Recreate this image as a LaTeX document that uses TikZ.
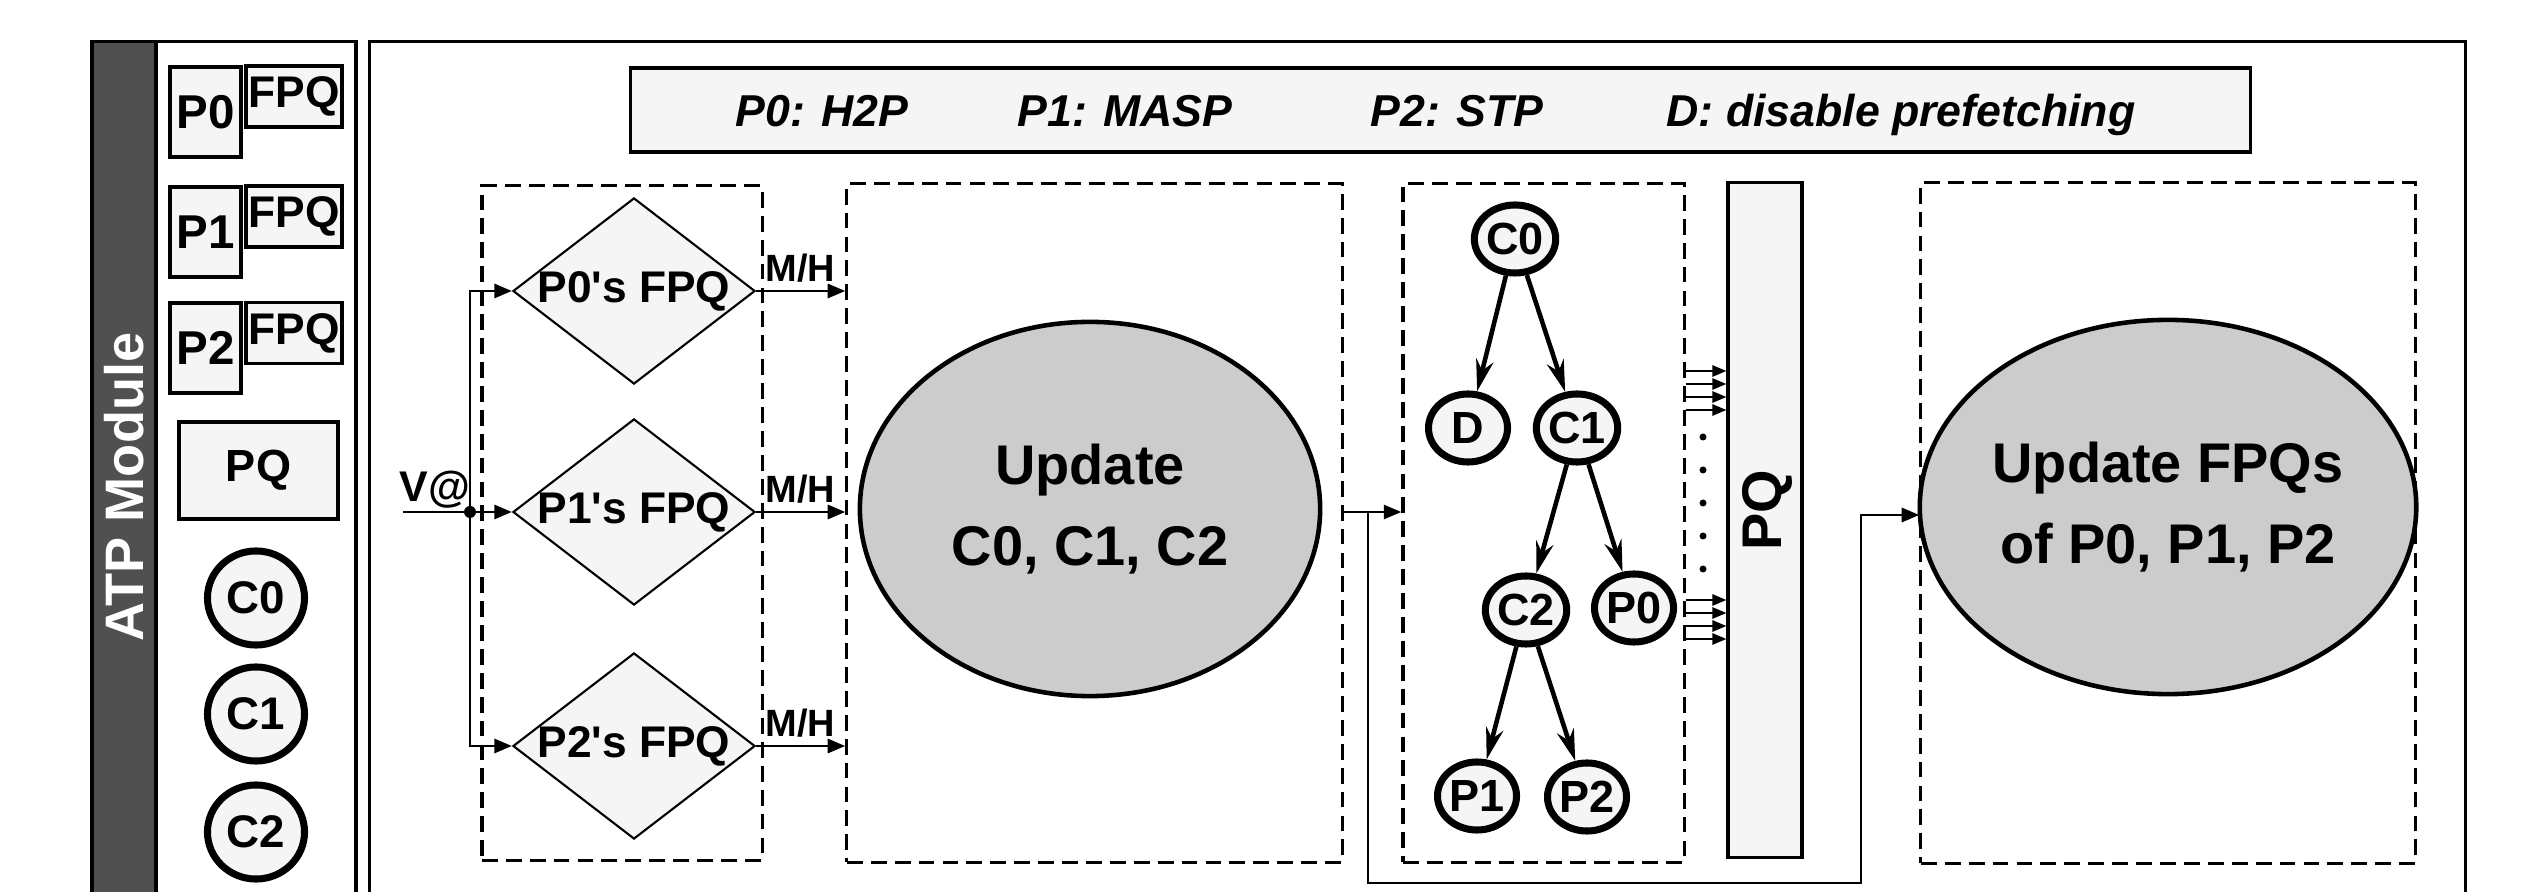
\documentclass[tikz,border=0pt]{standalone}
\usepackage{fontspec}
\setmainfont{Liberation Sans}
\usetikzlibrary{shapes.geometric,arrows.meta,calc}
\definecolor{boxfill}{HTML}{F5F5F5}
\definecolor{ellfill}{HTML}{CCCCCC}
\definecolor{barfill}{HTML}{505050}
\newcommand{\myfs}[1]{\fontsize{#1}{#1}\selectfont\bfseries}
\begin{document}
\begin{tikzpicture}[x=0.01cm,y=-0.01cm,
  frame/.style={draw, line width=0.9pt, inner sep=0},
  dbox/.style={draw, dash pattern=on 4.5pt off 2.3pt, line width=0.9pt, inner sep=0},
  gbox/.style={draw, fill=boxfill, line width=0.9pt, inner sep=0},
  lcirc/.style={ellipse, draw, line width=2pt, fill=boxfill, minimum width=0.97cm, minimum height=0.94cm, inner sep=0, font=\myfs{13}},
  tcirc/.style={ellipse, draw, line width=2pt, fill=boxfill, minimum width=0.79cm, minimum height=0.68cm, inner sep=0, font=\myfs{12.8}},
  dmd/.style={diamond, draw, fill=boxfill, line width=0.6pt, minimum width=2.42cm, minimum height=1.86cm, inner sep=0},
  dmdtxt/.style={inner sep=0, font=\myfs{12.6}},
  bigell/.style={ellipse, draw, fill=ellfill, line width=1.3pt, align=center, inner sep=0, font=\fontsize{15.9}{22.8}\selectfont\bfseries},
  arr/.style={-{Triangle[length=5pt,width=4pt]}, line width=0.8pt},
  sarr/.style={-{Triangle[length=4pt,width=3.2pt]}, line width=0.6pt},
  tarr/.style={-{Stealth[length=9pt,width=5pt]}, line width=1.3pt},
  lgd/.style={anchor=base, font=\fontsize{12.7}{14}\selectfont\bfseries\itshape},
  lbl/.style={anchor=base west, inner sep=0, font=\myfs{10.8}}
]
\useasboundingbox (0,0) rectangle (2525,892);
\clip (0,0) rectangle (2525,892);

% left module column
\node[frame, fill=barfill, minimum width=0.64cm, minimum height=9.08cm] (bar) at (124,496) {};
\node[rotate=90, text=white, font=\myfs{15.4}] (atp) at (124,487) {ATP Module};
\node[frame, minimum width=2.00cm, minimum height=9.08cm] (lpanel) at (256,496) {};

\node[gbox, minimum width=0.71cm, minimum height=0.90cm, font=\myfs{13.5}] (lp0) at (205.5,112) {P0};
\node[gbox, minimum width=0.96cm, minimum height=0.61cm, font=\myfs{12.6}] (lf0) at (294,96.5) {FPQ};
\node[gbox, minimum width=0.71cm, minimum height=0.90cm, font=\myfs{13.5}] (lp1) at (205.5,232) {P1};
\node[gbox, minimum width=0.96cm, minimum height=0.61cm, font=\myfs{12.6}] (lf1) at (294,216.5) {FPQ};
\node[gbox, minimum width=0.71cm, minimum height=0.90cm, font=\myfs{13.5}] (lp2) at (205.5,348) {P2};
\node[gbox, minimum width=0.96cm, minimum height=0.61cm, font=\myfs{12.6}] (lf2) at (294,333) {FPQ};
\node[gbox, minimum width=1.59cm, minimum height=0.97cm, font=\myfs{12.8}] (lpq) at (258.5,470.5) {PQ};
\node[lcirc] (lc0) at (256,598) {C0};
\node[lcirc] (lc1) at (256,714) {C1};
\node[lcirc] (lc2) at (256,832) {C2};

% main frame
\node[frame, minimum width=20.95cm, minimum height=9.08cm] (main) at (1417.5,496) {};

% legend
\node[gbox, minimum width=16.19cm, minimum height=0.84cm] (legend) at (1440.5,110) {};
\node[lgd] (lg0) at (822,127) {P0: H2P};
\node[lgd] (lg1) at (1125,127) {P1: MASP};
\node[lgd] (lg2) at (1457,127) {P2: STP};
\node[lgd] (lg3) at (1901,127) {D: disable prefetching};

% stage 1: FPQ lookups
\node[dbox, minimum width=2.80cm, minimum height=6.74cm] (d1) at (622,523) {};
\node[dmd] (f0) at (634,291) {};
\node[dmd] (f1) at (634,512) {};
\node[dmd] (f2) at (634,746) {};
\node[dmdtxt] (f0t) at (f0) {P0\textquotesingle s FPQ};
\node[dmdtxt] (f1t) at (f1) {P1\textquotesingle s FPQ};
\node[dmdtxt] (f2t) at (f2) {P2\textquotesingle s FPQ};

\coordinate (vin) at (403,512);
\coordinate (j) at (470,512);
\node[anchor=base, inner sep=0, font=\myfs{12.2}] (vlab) at (435,502) {V@};
\draw[line width=0.8pt] (vin) -- (j);
\fill (j) circle (6);
\draw[arr] (j) -- (f1.west);
\draw[arr] (j) |- (f0.west);
\draw[arr] (j) |- (f2.west);

% stage 2
\node[dbox, minimum width=4.95cm, minimum height=6.78cm] (d2) at (1094.5,523) {};
\node[bigell, minimum width=4.60cm, minimum height=3.74cm] (e1) at (1090,509) {Update\\C0, C1, C2};

\draw[arr] (f0.east) -- (f0.east -| d2.west) node[lbl, pos=0, xshift=0.08cm, yshift=0.09cm] (mh0) {M/H};
\draw[arr] (f1.east) -- (f1.east -| d2.west) node[lbl, pos=0, xshift=0.08cm, yshift=0.09cm] (mh1) {M/H};
\draw[arr] (f2.east) -- (f2.east -| d2.west) node[lbl, pos=0, xshift=0.08cm, yshift=0.09cm] (mh2) {M/H};

% stage 3: tree
\node[dbox, minimum width=2.81cm, minimum height=6.78cm] (d3) at (1543.5,523) {};
\node[tcirc] (tc0) at (1515,239) {C0};
\node[tcirc] (td) at (1468,428) {D};
\node[tcirc] (tc1) at (1577,428) {C1};
\node[tcirc] (tc2) at (1526,610) {C2};
\node[tcirc] (tp0) at (1634,608) {P0};
\node[tcirc] (tp1) at (1477,796) {P1};
\node[tcirc] (tp2) at (1587,797) {P2};
\draw[tarr] (tc0) -- (td);
\draw[tarr] (tc0) -- (tc1);
\draw[tarr] (tc1) -- (tc2);
\draw[tarr] (tc1) -- (tp0);
\draw[tarr] (tc2) -- (tp1);
\draw[tarr] (tc2) -- (tp2);

\coordinate (j2) at (1368,512);
\draw[arr] (d2.east |- f1) -- (d3.west |- f1);

% PQ bar
\node[gbox, minimum width=0.74cm, minimum height=6.74cm] (pq) at (1765,520) {};
\node[rotate=90, font=\myfs{15.9}] (pqt) at (1767,510) {PQ};
\foreach \yy in {371,384,397,410,600,613,626,639}
  \draw[sarr] (d3.east |- 0,\yy) -- (pq.west |- 0,\yy);
\foreach \yy in {437,470,503,536,569}
  \fill (1703,\yy) circle (3.5);

% stage 4
\node[dbox, minimum width=4.94cm, minimum height=6.80cm] (d4) at (2168,523) {};
\node[bigell, minimum width=4.62cm, minimum height=3.74cm] (e2) at (2168,507) {Update FPQs\\of P0, P1, P2};

% feedback path
\coordinate (fbl) at (1368,883);
\coordinate (fbr) at (1861,883);
\coordinate (fbt) at (1861,515);
\draw[arr] (j2) -- (fbl) -- (fbr) -- (fbt) -- (d4.west |- fbt);
\end{tikzpicture}
\end{document}
